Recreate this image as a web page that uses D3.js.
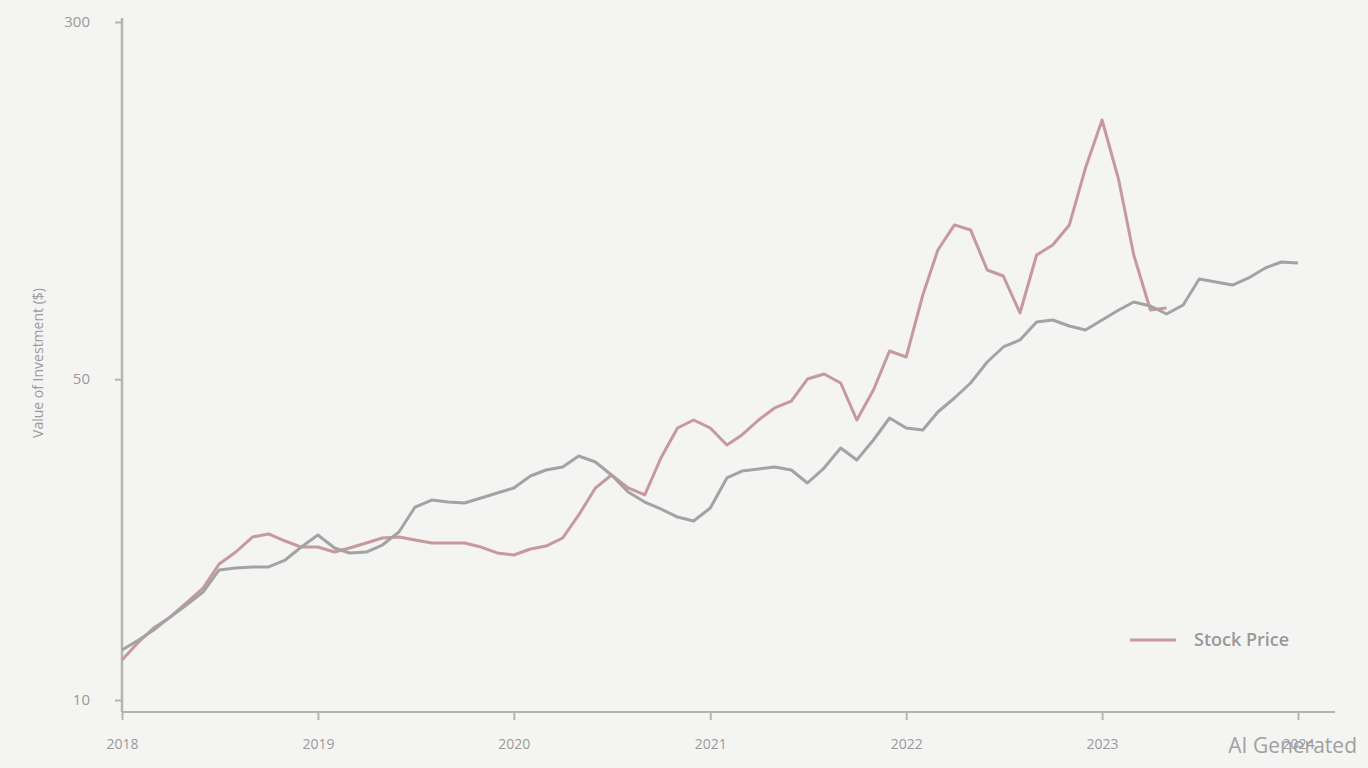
<!DOCTYPE html>
<html>
<head>
<meta charset="utf-8">
<script src="https://cdn.jsdelivr.net/npm/d3@7/dist/d3.min.js"></script>
<style>
  html, body { margin: 0; padding: 0; background: #f4f4f3; }
  svg { display: block; }
  text { font-family: "Open Sans", "DejaVu Sans", sans-serif; }
</style>
</head>
<body>
<svg id="chart" width="1368" height="768"></svg>
<script>
// ---- data (monthly, Jan 2018 .. Jan 2024) ----
const startMonth = "2018-01";
const marketIndex = [
  12.85, 13.51, 14.21, 15.17, 16.11, 17.19, 19.20, 19.39, 19.49, 19.49, 20.18, 21.54,
  22.88, 21.44, 20.91, 21.01, 21.76, 23.23, 26.33, 27.27, 27.00, 26.87, 27.55, 28.25,
  28.97, 30.76, 31.70, 32.18, 34.01, 33.00, 30.92, 28.39, 27.00, 26.07, 25.04, 24.55,
  26.20, 30.46, 31.54, 31.86, 32.18, 31.70, 29.70, 32.02, 35.40, 33.33, 36.85, 41.15,
  39.14, 38.75, 42.41, 45.49, 49.05, 54.50, 58.76, 60.86, 66.61, 67.28, 65.29, 63.99,
  67.28, 70.74, 73.64, 72.18, 69.34, 72.54, 82.64, 81.41, 80.19, 83.07, 87.34, 90.00,
  89.55
];
const stockPrice = [
  12.22, 13.38, 14.35, 15.17, 16.27, 17.54, 19.78, 21.01, 22.65, 23.00, 22.20, 21.54,
  21.54, 21.01, 21.44, 21.98, 22.54, 22.65, 22.31, 21.98, 21.98, 21.98, 21.54, 20.91,
  20.70, 21.33, 21.65, 22.54, 25.30, 28.97, 30.92, 28.97, 27.97, 33.67, 39.14, 40.74,
  39.14, 35.94, 37.79, 40.74, 43.27, 44.81, 50.04, 51.32, 49.05, 40.74, 47.36, 57.59,
  55.88, 76.27, 95.58, 108.4, 105.7, 86.47, 83.90, 69.69, 93.21, 98.01, 108.4, 144.2,
  183.5, 135.8, 93.21, 70.74, 71.46
];
const xTickLabels = ["2018", "2019", "2020", "2021", "2022", "2023", "2024"];
const yTickValues = [10, 50, 300];
const yTitle = "Value of Investment ($)";
const legendLabel = "Stock Price";
const watermark = "AI Generated";

// ---- build ----
(function () {
  const svg = d3.select("#chart");
  const pLeft = 122, pRight = 1298, pTop = 22, pBottom = 700;
  const axisY = 712, axisXEnd = 1335;

  const parse = d3.timeParse("%Y-%m");
  const t0 = parse(startMonth);
  const toSeries = arr => arr.map((v, i) => ({ date: d3.timeMonth.offset(t0, i), v }));
  const grey = toSeries(marketIndex);
  const red = toSeries(stockPrice);

  const x = d3.scaleTime()
    .domain([t0, d3.timeMonth.offset(t0, 72)])
    .range([pLeft, pRight]);
  const y = d3.scaleLog().domain([10, 300]).range([pBottom, pTop]);

  const axisColor = "#b4b4b4";
  const labelColor = "#9a9a9a";

  // x axis
  const xTicks = xTickLabels.map(s => d3.timeParse("%Y")(s));
  const gx = svg.append("g").attr("transform", `translate(0,${axisY})`)
    .call(d3.axisBottom(x).tickValues(xTicks).tickFormat(d3.timeFormat("%Y")).tickSize(8).tickPadding(19));
  gx.select(".domain").remove();
  gx.selectAll(".tick line").attr("stroke", axisColor).attr("stroke-width", 2);
  gx.selectAll(".tick text").attr("fill", labelColor).attr("font-size", 14);
  svg.append("line").attr("x1", pLeft).attr("x2", axisXEnd).attr("y1", axisY).attr("y2", axisY)
    .attr("stroke", axisColor).attr("stroke-width", 2);

  // y axis
  const gy = svg.append("g").attr("transform", `translate(${pLeft},0)`)
    .call(d3.axisLeft(y).tickValues(yTickValues).tickFormat(d3.format("d")).tickSize(7).tickPadding(25));
  gy.select(".domain").remove();
  gy.selectAll(".tick line").attr("stroke", axisColor).attr("stroke-width", 2);
  gy.selectAll(".tick text").attr("fill", labelColor).attr("font-size", 15);
  svg.append("line").attr("x1", pLeft).attr("x2", pLeft).attr("y1", pTop - 4).attr("y2", axisY)
    .attr("stroke", axisColor).attr("stroke-width", 2.5);

  // y title
  svg.append("text")
    .attr("transform", `translate(43,${(pTop + pBottom) / 2 + 2}) rotate(-90)`)
    .attr("text-anchor", "middle")
    .attr("fill", labelColor)
    .attr("font-size", 14)
    .text(yTitle);

  // lines
  const line = d3.line().x(d => x(d.date)).y(d => y(d.v));
  svg.append("path").datum(red)
    .attr("fill", "none").attr("stroke", "#c6999e").attr("stroke-width", 3)
    .attr("stroke-linejoin", "round").attr("d", line);
  svg.append("path").datum(grey)
    .attr("fill", "none").attr("stroke", "#a3a3a5").attr("stroke-width", 3)
    .attr("stroke-linejoin", "round").attr("d", line);

  // legend
  const lg = svg.append("g").attr("transform", "translate(1130,640)");
  lg.append("line").attr("x1", 0).attr("x2", 46).attr("y1", 0).attr("y2", 0)
    .attr("stroke", "#c6999e").attr("stroke-width", 3);
  lg.append("text").attr("x", 64).attr("y", 6).attr("fill", "#999")
    .attr("font-size", 18).attr("font-weight", 600).text(legendLabel);

  // watermark
  svg.append("text").attr("x", 1357).attr("y", 753).attr("text-anchor", "end")
    .attr("fill", "#a0a0a0").attr("font-size", 21)
    .attr("font-family", "Lato, 'Open Sans', sans-serif")
    .text(watermark);
})();
</script>
</body>
</html>
